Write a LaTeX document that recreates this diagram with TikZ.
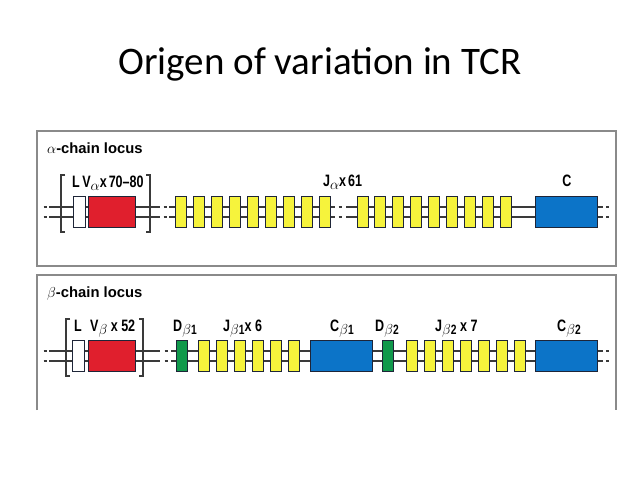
\documentclass[tikz,border=0pt]{standalone}
\usepackage{fontspec}
\newfontfamily\titlefont{Carlito}
\newfontfamily\hdrfont{Liberation Sans}
\newfontfamily\genefont{Liberation Sans}[FakeStretch=0.76]
\newcommand\gsub[1]{\raisebox{-3.5pt}{\fontsize{13.5}{13.5}\selectfont #1}}
\definecolor{gred}{HTML}{E01F2D}
\definecolor{gyel}{HTML}{F6F33C}
\definecolor{gblue}{HTML}{0C74C8}
\definecolor{ggreen}{HTML}{10994B}
\definecolor{outl}{HTML}{1E2538}
\definecolor{dnac}{HTML}{3A3A3A}
\definecolor{framec}{HTML}{8A8A8A}
\begin{document}
\begin{tikzpicture}[x=1pt,y=-1pt,
  gbox/.style={draw=outl, line width=1pt, minimum height=31pt, inner sep=0pt, outer sep=0pt},
  ybox/.style={gbox, fill=gyel, minimum width=11pt},
  gnbox/.style={gbox, fill=ggreen, minimum width=11pt},
  cbox/.style={gbox, fill=gblue, minimum width=62pt},
  vbox/.style={gbox, fill=gred, minimum width=47pt},
  lbox/.style={gbox, fill=white, minimum width=12pt},
  dna/.style={draw=dnac, line width=1.2pt},
  brk/.style={draw=dnac, line width=1.3pt},
  frame/.style={draw=framec, line width=1.3pt},
  hdr/.style={inner sep=0pt, anchor=base west, font=\hdrfont\bfseries\fontsize{14.8}{16}\selectfont},
  lbl/.style={inner sep=0pt, anchor=base west, font=\genefont\bfseries\fontsize{16.5}{18}\selectfont},
]
\useasboundingbox (0,0) rectangle (640,480);
\fill[white] (0,0) rectangle (640,480);

% title
\node[inner sep=0pt, anchor=base, font=\titlefont\fontsize{39}{44}\selectfont] (title) at (320,74) {Origen of variation in TCR};

% frames
\draw[frame] (37,131) rectangle (616,266);
\draw[frame] (37,410) -- (37,275) -- (616,275) -- (616,410);

% ---------- alpha locus ----------
\node[hdr] (ahdr) at (47,153) {$\alpha$-chain locus};
\foreach \yy in {207,217}{
  \draw[dna] (43.5,\yy) -- (46.5,\yy);
  \draw[dna] (49,\yy) -- (160,\yy);
  \draw[dna] (163.5,\yy) -- (166.5,\yy);
  \draw[dna] (169,\yy) -- (335,\yy);
  \draw[dna] (338.5,\yy) -- (341.5,\yy);
  \draw[dna] (346,\yy) -- (603,\yy);
  \draw[dna] (606,\yy) -- (609,\yy);
}
\draw[brk] (65,175) -- (61,175) -- (61,232) -- (65,232);
\draw[brk] (146,175) -- (150,175) -- (150,232) -- (146,232);
\node[lbox] (aL) at (79,211.5) {};
\node[vbox] (aV) at (111.5,211.5) {};
\foreach \i in {0,...,8}{
  \node[ybox] (aJa\i) at (180.5+18*\i,211.5) {};
  \node[ybox] (aJb\i) at (362.5+17.9*\i,211.5) {};
}
\node[cbox] (aC) at (566,211.5) {};
\node[lbl] (aVl) at (72,187) {L\hspace{2.5pt}V\gsub{$\alpha$}x\hspace{2pt}70–80};
\node[lbl] (aJl) at (323,186) {J\gsub{$\alpha$}x\hspace{2pt}61};
\node[lbl, anchor=base] (aCl) at (567,186) {C};

% ---------- beta locus ----------
\node[hdr] (bhdr) at (47,297) {$\beta$-chain locus};
\foreach \yy in {351,361}{
  \draw[dna] (43.5,\yy) -- (46.5,\yy);
  \draw[dna] (49,\yy) -- (160,\yy);
  \draw[dna] (164.5,\yy) -- (167.5,\yy);
  \draw[dna] (171,\yy) -- (603,\yy);
  \draw[dna] (606,\yy) -- (609,\yy);
}
\draw[brk] (70,319) -- (66,319) -- (66,376) -- (70,376);
\draw[brk] (139,319) -- (143,319) -- (143,376) -- (139,376);
\node[lbox] (bL) at (78.5,355.5) {};
\node[vbox] (bV) at (111.5,355.5) {};
\node[gnbox] (bD1) at (181.5,355.5) {};
\foreach \i in {0,...,5}{
  \node[ybox] (bJa\i) at (203.5+18*\i,355.5) {};
}
\node[cbox] (bC1) at (341,355.5) {};
\node[gnbox] (bD2) at (387.5,355.5) {};
\foreach \i in {0,...,6}{
  \node[ybox] (bJb\i) at (411.5+18*\i,355.5) {};
}
\node[cbox] (bC2) at (566,355.5) {};
\node[lbl] (bLl) at (74,331) {L};
\node[lbl] (bVl) at (90,331) {V\gsub{$\beta$} x 52};
\node[lbl] (bD1l) at (173,331) {D\gsub{$\beta$1}};
\node[lbl] (bJ1l) at (223,331) {J\gsub{$\beta$1}x 6};
\node[lbl] (bC1l) at (330,331) {C\gsub{$\beta$1}};
\node[lbl] (bD2l) at (375,331) {D\gsub{$\beta$2}};
\node[lbl] (bJ2l) at (435,331) {J\gsub{$\beta$2} x 7};
\node[lbl] (bC2l) at (557,331) {C\gsub{$\beta$2}};
\end{tikzpicture}
\end{document}
